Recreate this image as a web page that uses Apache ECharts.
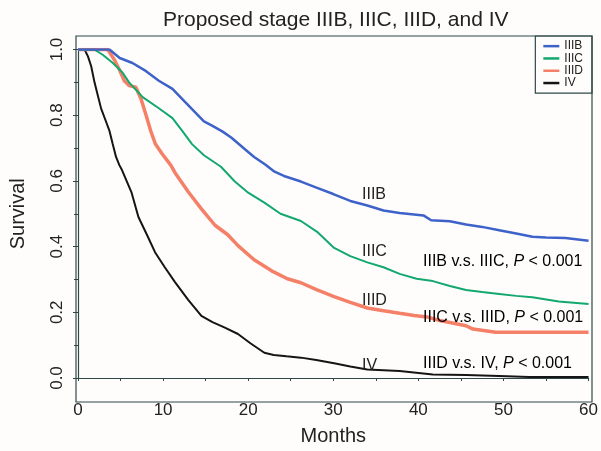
<!DOCTYPE html>
<html>
<head>
<meta charset="utf-8">
<script src="https://cdn.jsdelivr.net/npm/echarts@6/dist/echarts.min.js"></script>
<style>html,body{margin:0;padding:0;background:#fffdfc;}#c{width:601px;height:451px;}</style>
</head>
<body>
<div id="c"></div>
<script>
var seriesNames = ['IIIB', 'IIIC', 'IIID', 'IV'];
var xTicks = [0, 10, 20, 30, 40, 50, 60];
var yTicks = ['0.0', '0.2', '0.4', '0.6', '0.8', '1.0'];

var survIIIB = [[0,1],[3.7,1],[4.9,0.974],[6.4,0.959],[8,0.934],[9.5,0.905],[11.1,0.88],[12.6,0.84],[13.8,0.808],[14.8,0.781],[15.7,0.769],[17,0.75],[18,0.732],[19,0.71],[20,0.688],[20.7,0.673],[22,0.65],[23.1,0.628],[24.2,0.615],[26.2,0.598],[28.1,0.579],[30,0.56],[32,0.539],[34,0.525],[35.9,0.51],[37.8,0.502],[40.6,0.495],[41.5,0.48],[43.7,0.477],[45.6,0.467],[47.5,0.46],[49.5,0.45],[51.5,0.44],[53.4,0.43],[55,0.428],[57.3,0.426],[60,0.418]];
var survIIIC = [[0,1],[1.9,1],[2.9,0.984],[4.1,0.959],[5.25,0.929],[6,0.90],[7.6,0.855],[9.5,0.821],[11.1,0.791],[12.25,0.752],[13.4,0.712],[14.8,0.678],[16.8,0.643],[18.4,0.599],[20,0.564],[21.9,0.534],[23.8,0.50],[26.2,0.478],[28.1,0.445],[30.1,0.396],[32,0.371],[34,0.352],[35.9,0.337],[37.8,0.317],[39.8,0.302],[41.7,0.295],[43.7,0.28],[45.6,0.268],[47.5,0.262],[49.5,0.256],[51.5,0.25],[53.4,0.246],[56.5,0.233],[60,0.225]];
var survIIID = [[0,1],[3.5,1],[4.27,0.969],[4.86,0.939],[5.44,0.905],[6,0.89],[6.8,0.885],[7.4,0.85],[8,0.80],[8.55,0.752],[9.1,0.712],[9.9,0.682],[10.9,0.648],[11.4,0.625],[12.95,0.567],[14.5,0.515],[16.1,0.465],[17.6,0.436],[18.8,0.403],[20.7,0.36],[22.7,0.327],[24.6,0.302],[26.2,0.29],[28.1,0.268],[30.1,0.248],[32,0.23],[34,0.213],[35.9,0.205],[37.8,0.197],[39.5,0.19],[41,0.186],[42.5,0.175],[43.7,0.169],[45.6,0.159],[46.4,0.149],[49.1,0.139],[60,0.139]];
var survIV = [[0,1],[0.77,1],[1.17,0.979],[1.55,0.949],[1.94,0.90],[2.33,0.86],[2.72,0.82],[3.3,0.78],[3.7,0.752],[4.08,0.712],[4.47,0.673],[4.86,0.648],[5.17,0.633],[6.3,0.564],[7.1,0.49],[8.1,0.436],[9.05,0.383],[10.2,0.337],[11.4,0.292],[12.95,0.238],[14.5,0.189],[15.8,0.17],[17.2,0.154],[18.8,0.134],[20.3,0.105],[21.9,0.077],[23,0.07],[24.5,0.066],[26.2,0.062],[28,0.055],[30.1,0.045],[32,0.035],[34,0.026],[37.8,0.021],[41.7,0.011],[45.6,0.009],[49.5,0.006],[53,0.003],[60,0.003]];

var curveLabels = ['IIIB', 'IIIC', 'IIID', 'IV'];
var pTexts = [['IIIB v.s. IIIC, ', 'P', ' < 0.001'], ['IIIC v.s. IIID, ', 'P', ' < 0.001'], ['IIID v.s. IV, ', 'P', ' < 0.001']];

var colors = ['#3d62c9', '#12a86e', '#f58068', '#151515'];
var widths = [2.5, 2, 3.5, 2];
var allData = [survIIIB, survIIIC, survIIID, survIV];
var FONT = 'Liberation Sans, Arial, sans-serif';
var frameColor = '#2e4848';

var chart = echarts.init(document.getElementById('c'), null, {renderer: 'canvas'});

var series = seriesNames.map(function (n, i) {
  return {
    name: n, type: 'line', data: allData[i], symbol: 'none', smooth: false,
    lineStyle: {color: colors[i], width: widths[i]}, itemStyle: {color: colors[i]},
    z: 10 - i, animation: false
  };
});

var labelY = [196, 253, 302, 367];
var pY = [263, 319, 365];
var graphics = [
  {type: 'rect', shape: {x: 76, y: 36, width: 516, height: 366}, style: {fill: 'none', stroke: frameColor, lineWidth: 1.2}, z: 100}
];
curveLabels.forEach(function (t, i) {
  graphics.push({type: 'text', left: 362, top: labelY[i] - 9, style: {text: t, font: '16px ' + FONT, fill: '#222'}, z: 100});
});
pTexts.forEach(function (p, i) {
  graphics.push({type: 'text', left: 423, top: pY[i] - 9, style: {
    text: '{n|' + p[0] + '}{i|' + p[1] + '}{n|' + p[2] + '}',
    rich: {n: {fontSize: 16, fontFamily: FONT, color: '#222'}, i: {fontSize: 16, fontFamily: FONT, fontStyle: 'italic', color: '#222'}}
  }, z: 100});
});

chart.setOption({
  backgroundColor: '#fffdfc',
  animation: false,
  title: {
    text: 'Proposed stage IIIB, IIIC, IIID, and IV',
    left: 158, top: 5,
    textStyle: {fontFamily: FONT, fontSize: 21, fontWeight: 'normal', color: '#222'}
  },
  legend: {
    data: seriesNames, orient: 'vertical', right: 9, top: 36,
    padding: [4, 9, 4, 8], itemGap: 0, itemWidth: 16, itemHeight: 2.5, icon: 'rect',
    backgroundColor: '#fffdfc', borderColor: frameColor, borderWidth: 1.2, borderRadius: 0,
    textStyle: {fontFamily: FONT, fontSize: 12, lineHeight: 12.3, color: '#222'}
  },
  grid: {left: 76, right: 9, top: 49.5, bottom: 64, containLabel: false},
  xAxis: {
    type: 'value', min: 0, max: 60, interval: 10, offset: 15,
    name: 'Months', nameLocation: 'middle', nameGap: 33,
    nameTextStyle: {fontFamily: FONT, fontSize: 20, color: '#222'},
    axisLine: {show: true, lineStyle: {color: frameColor, width: 1.2}},
    axisTick: {show: true, inside: false, length: 3, lineStyle: {color: frameColor}},
    minorTick: {show: true, splitNumber: 2, length: 3, lineStyle: {color: frameColor}},
    splitLine: {show: false},
    axisLabel: {fontFamily: FONT, fontSize: 17, color: '#222', margin: 9,
      formatter: function (v) { return xTicks.indexOf(v) >= 0 ? String(v) : ''; }}
  },
  yAxis: {
    type: 'value', min: 0, max: 1, interval: 0.2,
    name: 'Survival', nameLocation: 'middle', nameGap: 50, nameRotate: 90,
    nameTextStyle: {fontFamily: FONT, fontSize: 20, color: '#222'},
    axisLine: {show: true, lineStyle: {color: frameColor, width: 1.2}},
    axisTick: {show: true, inside: false, length: 5, lineStyle: {color: frameColor}},
    minorTick: {show: true, splitNumber: 2, length: 4, lineStyle: {color: frameColor}},
    splitLine: {show: false},
    axisLabel: {fontFamily: FONT, fontSize: 17, color: '#222', rotate: 90, margin: 12,
      formatter: function (v) { return yTicks[Math.round(v / 0.2)]; }}
  },
  series: series,
  graphic: graphics
});
</script>
</body>
</html>
